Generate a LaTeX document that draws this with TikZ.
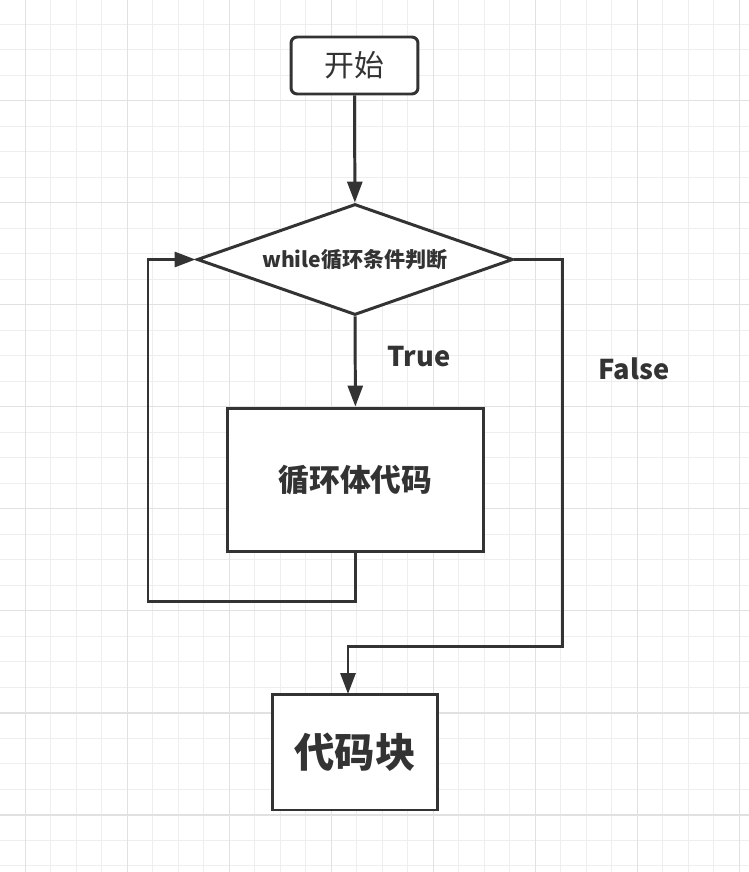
\documentclass[tikz,border=0pt]{standalone}
\usepackage{fontspec}
\setmainfont{Noto Sans CJK SC}
\usetikzlibrary{shapes.geometric,arrows.meta}
\definecolor{ink}{HTML}{333333}
\definecolor{gridminor}{HTML}{EEEEEE}
\definecolor{gridmajor}{HTML}{E1E1E1}

\begin{document}
\begin{tikzpicture}[x=0.02cm, y=-0.02cm,
    >={Triangle[length=0.42cm, width=0.30cm]},
    flowline/.style={draw=ink, line width=1.7pt},
    startbox/.style={flowline, rounded corners=3.5pt, minimum width=2.54cm,
        minimum height=1.14cm, inner sep=0pt, text=ink, font=\fontsize{17pt}{20pt}\selectfont},
    condbox/.style={flowline, shape=diamond, aspect=2.85, minimum width=6.32cm, minimum height=2.22cm,
        inner sep=0pt, fill=white, text=ink, font=\fontsize{12pt}{14pt}\selectfont\bfseries},
    bodybox/.style={flowline, fill=white, minimum width=5.14cm, minimum height=2.88cm,
        inner sep=0pt, text=ink, font=\fontsize{17.5pt}{20pt}\selectfont\bfseries},
    donebox/.style={flowline, fill=white, minimum width=3.32cm, minimum height=2.32cm,
        inner sep=0pt, text=ink, font=\fontsize{23pt}{26pt}\selectfont\bfseries},
    branchlabel/.style={text=ink, font=\fontsize{15.5pt}{18pt}\selectfont\bfseries}]

    \fill[white] (0,0) rectangle (749,872);
    \useasboundingbox (0,0) rectangle (749,872);

    \foreach \i in {0,...,28}
        \draw[gridminor, line width=0.7pt] ({25.3+25.5*\i},0) -- ({25.3+25.5*\i},872);
    \foreach \j in {1,...,34}
        \draw[gridminor, line width=0.7pt] (0,{-1.3+25.5*\j}) -- (749,{-1.3+25.5*\j});
    \foreach \i in {0,...,7}
        \draw[gridmajor, line width=0.9pt] ({25.3+102*\i},0) -- ({25.3+102*\i},872);
    \foreach \j in {1,...,8}
        \draw[gridmajor, line width=0.9pt] (0,{-1.3+102*\j}) -- (749,{-1.3+102*\j});

    \node[startbox, fill=white] (start) at (354.5,65.5) {开始};
    \node[condbox] (cond) at (355,259.5) {while循环条件判断};
    \node[bodybox] (body) at (355.5,480) {循环体代码};
    \node[donebox] (done) at (355,752) {代码块};

    \node[branchlabel] (lblTrue) at (419,357) {True};
    \node[branchlabel] (lblFalse) at (634,369) {False};

    \coordinate (loopL) at (148,601);
    \coordinate (falseR) at (562,646);
    \coordinate (doneIn) at (348,694);

    \draw[flowline, ->] (start) -- (cond);
    \draw[flowline, ->] (cond) -- (body);
    \draw[flowline, ->] (body.south) |- (loopL) |- (cond.west);
    \draw[flowline, ->] (cond.east) -| (falseR) -| (doneIn);
\end{tikzpicture}
\end{document}
